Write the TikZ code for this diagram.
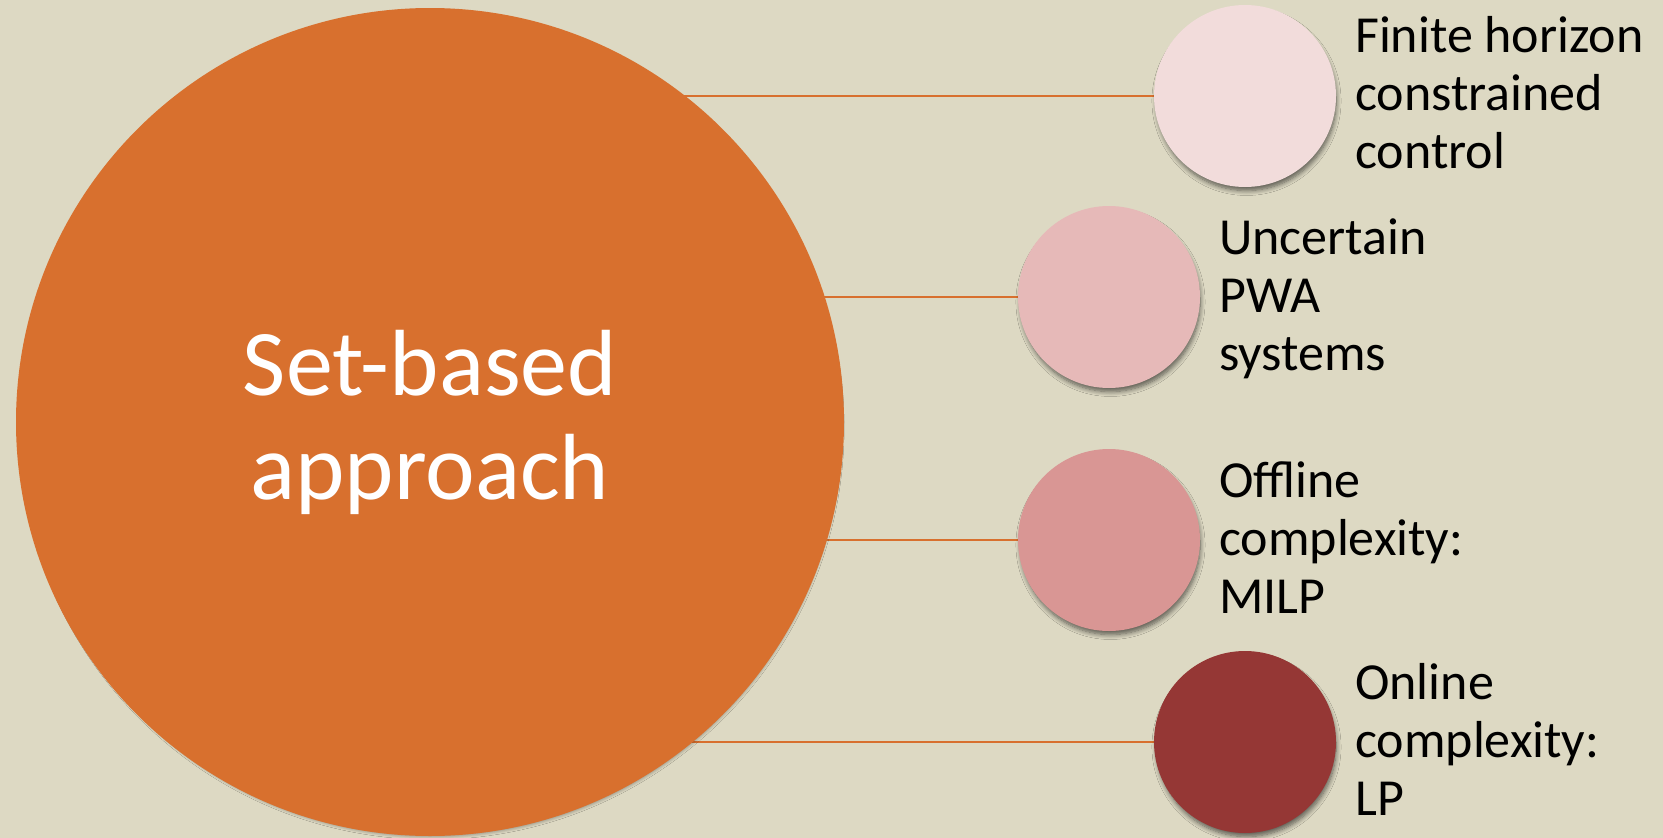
\documentclass[tikz,border=0pt]{standalone}
\usepackage{fontspec}
\setmainfont{Carlito}
\usetikzlibrary{shadows.blur,backgrounds}

\definecolor{paper}{HTML}{DDD9C3}
\definecolor{hubfill}{HTML}{D8702E}
\definecolor{tintA}{HTML}{F2DCDB}
\definecolor{tintB}{HTML}{E6B9B8}
\definecolor{tintC}{HTML}{D99694}
\definecolor{tintD}{HTML}{953735}

\tikzset{
  disc/.style={circle, inner sep=0pt, outer sep=0pt,
    blur shadow={shadow xshift=1.5pt, shadow yshift=-5pt, shadow scale=0.985,
      shadow blur radius=5pt, shadow blur steps=8,
      shadow opacity=60}},
  hubdisc/.style={disc, fill=hubfill, minimum size=828pt,
    text=white, align=center, font=\fontsize{94}{104}\selectfont},
  leaf/.style={disc, minimum size=182pt},
  lbl/.style={anchor=base west, align=left, inner sep=0pt,
    font=\fontsize{52}{58}\selectfont},
  link/.style={draw=hubfill, line width=1.6pt}
}

\begin{document}
\begin{tikzpicture}[x=1pt, y=-1pt]
\useasboundingbox (0,0) rectangle (1663,838);

% central disc
\node[hubdisc] (hub) at (430,422) {Set-based\\approach};

% satellite discs
\node[leaf, fill=tintA] (c1) at (1245,96) {};
\node[leaf, fill=tintB] (c2) at (1109,297) {};
\node[leaf, fill=tintC] (c3) at (1109,540) {};
\node[leaf, fill=tintD] (c4) at (1245,742) {};

% captions (anchored on the baseline of their last line)
\node[lbl] (t1) at (1355,168) {Finite horizon\\constrained\\control};
\node[lbl] (t2) at (1219,370) {Uncertain\\PWA\\systems};
\node[lbl] (t3) at (1219,613) {Offline\\complexity:\\MILP};
\node[lbl] (t4) at (1355,815) {Online\\complexity:\\LP};

% backdrop and connectors behind the discs
\begin{scope}[on background layer]
  \fill[paper] (0,0) rectangle (1663,838);
  \draw[link] (hub.center |- c1.west) -- (c1.west);
  \draw[link] (hub.center |- c2.west) -- (c2.west);
  \draw[link] (hub.center |- c3.west) -- (c3.west);
  \draw[link] (hub.center |- c4.west) -- (c4.west);
\end{scope}
\end{tikzpicture}
\end{document}
